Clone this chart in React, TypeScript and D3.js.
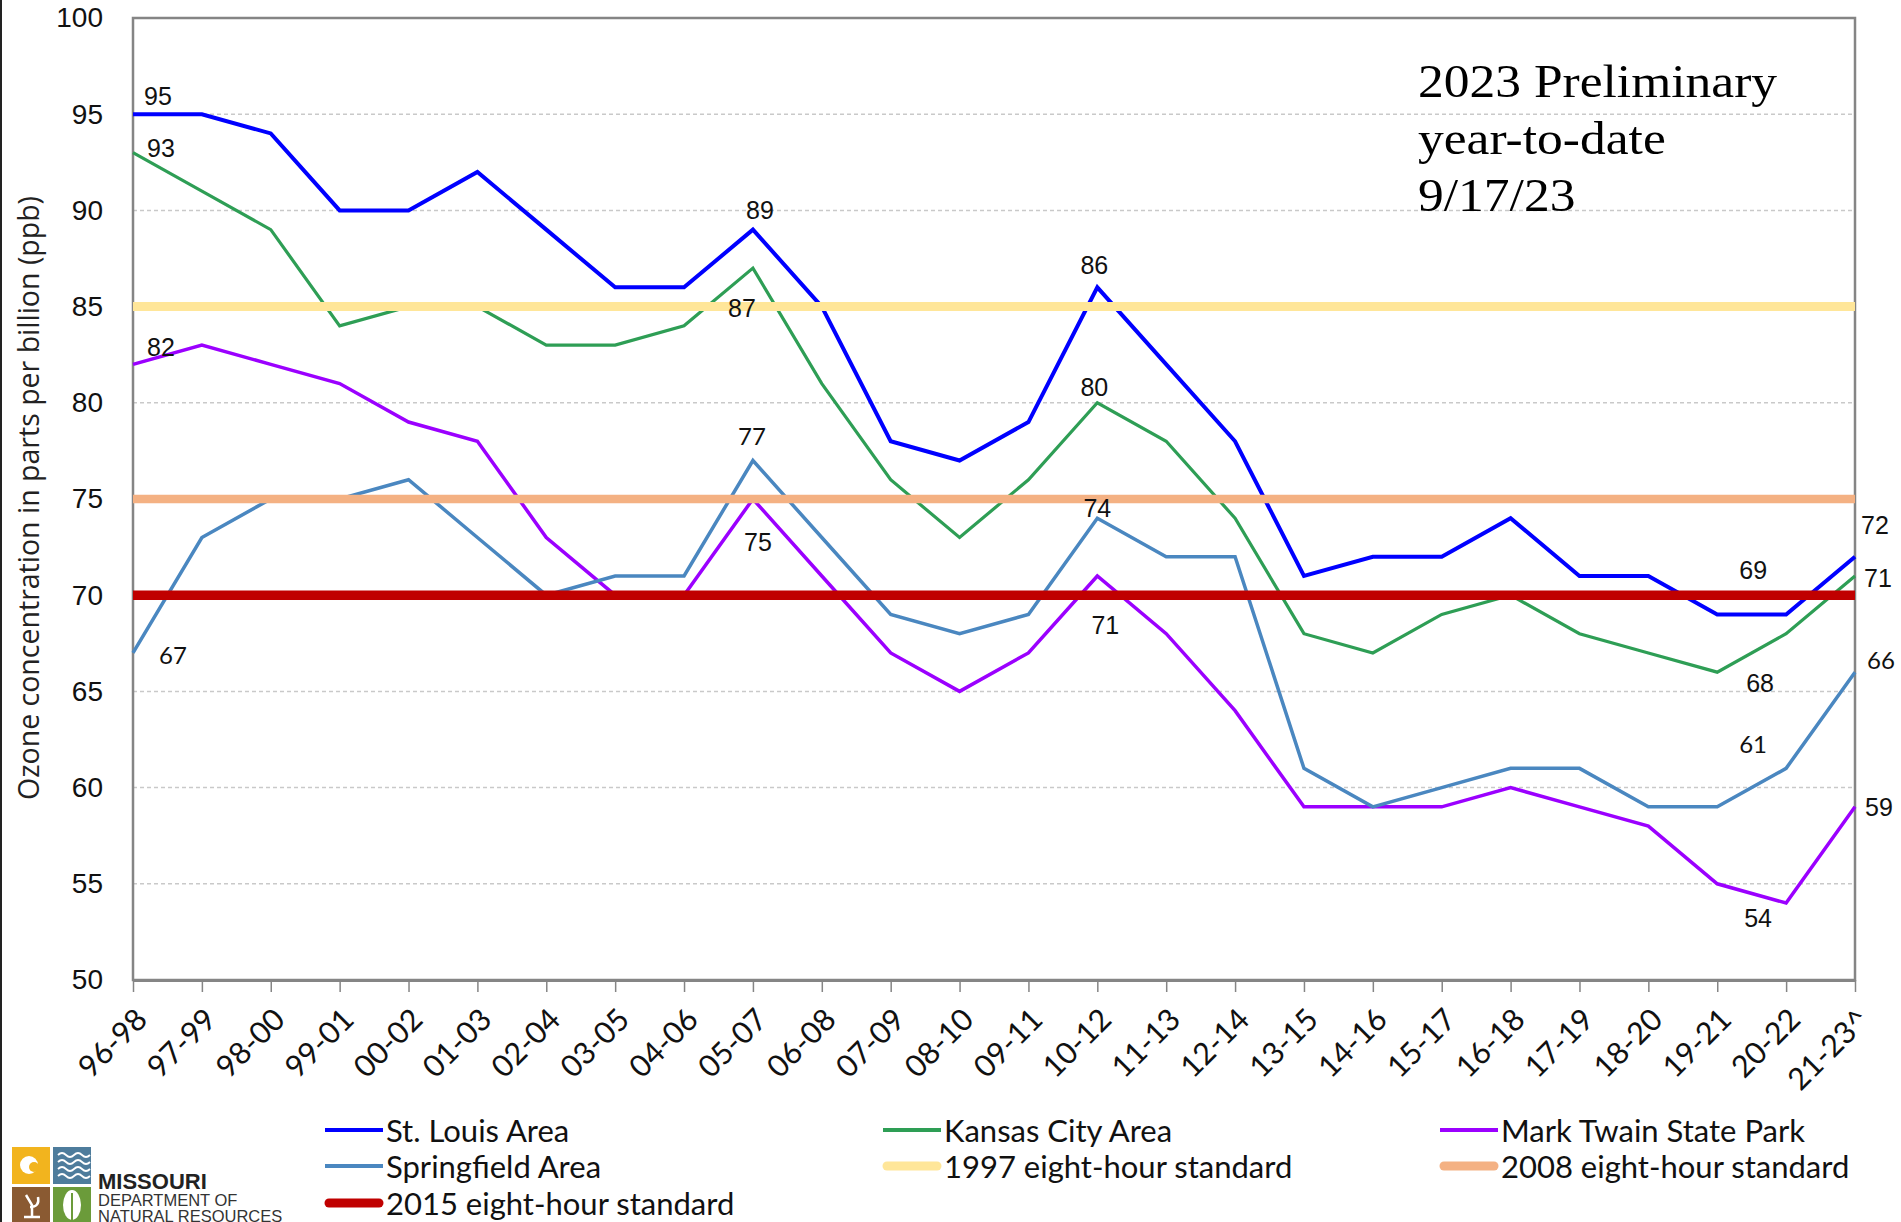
import * as d3 from "d3";
import {useEffect, useRef} from "react";

// three-year design value periods
const categories = [
    "96-98", "97-99", "98-00", "99-01", "00-02", "01-03", "02-04", "03-05", "04-06", "05-07",
    "06-08", "07-09", "08-10", "09-11", "10-12", "11-13", "12-14", "13-15", "14-16", "15-17",
    "16-18", "17-19", "18-20", "19-21", "20-22", "21-23^"
];

const stLouis = [95, 95, 94, 90, 90, 92, 89, 86, 86, 89, 85, 78, 77, 79, 86, 82, 78, 71, 72, 72, 74, 71, 71, 69, 69, 72];
const kansasCity = [93, 91, 89, 84, 85, 85, 83, 83, 84, 87, 81, 76, 73, 76, 80, 78, 74, 68, 67, 69, 70, 68, 67, 66, 68, 71];
const markTwain = [82, 83, 82, 81, 79, 78, 73, 70, 70, 75, 71, 67, 65, 67, 71, 68, 64, 59, 59, 59, 60, 59, 58, 55, 54, 59];
const springfield = [67, 73, 75, 75, 76, 73, 70, 71, 71, 77, 73, 69, 68, 69, 74, 72, 72, 61, 59, 60, 61, 61, 59, 59, 61, 66];

const standard1997 = 85;
const standard2008 = 75;
const standard2015 = 70;

const yTicks = [50, 55, 60, 65, 70, 75, 80, 85, 90, 95, 100];
const gridTicks = [55, 60, 65, 70, 75, 80, 85, 90, 95];

const noteLines = ["2023 Preliminary", "year-to-date", "9/17/23"];

const series = [
    {name: "St. Louis Area", values: stLouis, color: "#0000FF", width: 4},
    {name: "Kansas City Area", values: kansasCity, color: "#2E9E55", width: 3.2},
    {name: "Mark Twain State Park", values: markTwain, color: "#9B00FF", width: 3.5},
    {name: "Springfield Area", values: springfield, color: "#4A87C0", width: 3.5},
];

const standards = [
    {name: "1997 eight-hour standard", value: standard1997, color: "#FFE699", width: 9},
    {name: "2008 eight-hour standard", value: standard2008, color: "#F4B183", width: 8.5},
    {name: "2015 eight-hour standard", value: standard2015, color: "#C00000", width: 9.5},
];

// which point gets a value label (series index, category index) and where it sits
const pointLabels = [
    {s: 0, i: 0, dx: 25, dy: -18}, {s: 1, i: 0, dx: 28, dy: -5}, {s: 2, i: 0, dx: 28, dy: -17},
    {s: 3, i: 0, dx: 40, dy: 2, calibri: true},
    {s: 0, i: 9, dx: 7, dy: -20}, {s: 1, i: 9, dx: -11, dy: 40}, {s: 3, i: 9, dx: -1, dy: -25, calibri: true},
    {s: 2, i: 9, dx: 5, dy: 43},
    {s: 0, i: 14, dx: -3, dy: -22}, {s: 1, i: 14, dx: -3, dy: -16}, {s: 3, i: 14, dx: 0, dy: -10},
    {s: 2, i: 14, dx: 8, dy: 49},
    {s: 0, i: 25, dx: 20, dy: -32}, {s: 0, i: 23, dx: 36, dy: -44}, {s: 1, i: 25, dx: 23, dy: 2},
    {s: 1, i: 24, dx: -26, dy: 49}, {s: 3, i: 25, dx: 26, dy: -13, calibri: true},
    {s: 3, i: 24, dx: -33, dy: -25, calibri: true}, {s: 2, i: 25, dx: 24, dy: 0}, {s: 2, i: 24, dx: -28, dy: 15},
];

const App = () => {
    const ref = useRef<SVGSVGElement>(null);

    useEffect(() => {
        const svg = d3.select(ref.current);
        svg.selectAll("*").remove();

        const left = 133, right = 1855, top = 18, bottom = 980;

        const x = d3.scalePoint<string>().domain(categories).range([left, right]);
        const y = d3.scaleLinear().domain([50, 100]).range([bottom, top]);

        svg.append("rect").attr("width", 1901).attr("height", 1222).attr("fill", "#fff");
        svg.append("line").attr("x1", 1).attr("x2", 1).attr("y1", 0).attr("y2", 1222)
            .attr("stroke", "#222").attr("stroke-width", 2);

        // gridlines
        svg.append("g").selectAll("line").data(gridTicks).enter().append("line")
            .attr("x1", left).attr("x2", right)
            .attr("y1", d => y(d)).attr("y2", d => y(d))
            .attr("stroke", "#C9C9C9").attr("stroke-width", 1.5).attr("stroke-dasharray", "4,3");

        // frame
        svg.append("rect").attr("x", left).attr("y", top)
            .attr("width", right - left).attr("height", bottom - top)
            .attr("fill", "none").attr("stroke", "#858585").attr("stroke-width", 2.5);

        // x axis
        const xAxis = svg.append("g").attr("transform", `translate(0,${bottom})`)
            .call(d3.axisBottom(x).tickSize(12).tickSizeOuter(0));
        xAxis.select(".domain").attr("stroke", "#858585").attr("stroke-width", 3);
        xAxis.selectAll(".tick line").attr("stroke", "#858585").attr("stroke-width", 1.5);
        xAxis.selectAll(".tick text")
            .attr("x", 0).attr("y", 0).attr("dy", "0.35em")
            .attr("text-anchor", "end")
            .attr("transform", "translate(8,34) rotate(-45)")
            .attr("font-family", "Lato, 'Open Sans', sans-serif")
            .attr("font-size", 30.5).attr("fill", "#111");

        // y axis
        const yAxis = svg.append("g").attr("transform", `translate(${left},0)`)
            .call(d3.axisLeft(y).tickValues(yTicks).tickSize(0).tickPadding(30));
        yAxis.select(".domain").remove();
        yAxis.selectAll(".tick text")
            .attr("font-family", "'Liberation Sans', Arial, sans-serif")
            .attr("font-size", 28).attr("fill", "#111");

        svg.append("text")
            .attr("transform", "translate(28,498) rotate(-90)")
            .attr("text-anchor", "middle").attr("dominant-baseline", "central")
            .attr("font-family", "'Open Sans', 'Noto Sans', sans-serif")
            .attr("font-size", 28.5).attr("fill", "#222")
            .text("Ozone concentration in parts per billion (ppb)");

        // series lines
        const line = d3.line<number>()
            .x((d, i) => x(categories[i]) as number)
            .y(d => y(d));

        svg.append("g").selectAll("path").data(series).enter().append("path")
            .attr("d", d => line(d.values))
            .attr("fill", "none")
            .attr("stroke", d => d.color)
            .attr("stroke-width", d => d.width)
            .attr("stroke-linejoin", "miter");

        // standards on top
        svg.append("g").selectAll("line").data(standards).enter().append("line")
            .attr("x1", left).attr("x2", right)
            .attr("y1", d => y(d.value)).attr("y2", d => y(d.value))
            .attr("stroke", d => d.color).attr("stroke-width", d => d.width);

        // value labels
        svg.append("g").selectAll("text").data(pointLabels).enter().append("text")
            .attr("x", d => (x(categories[d.i]) as number) + d.dx)
            .attr("y", d => y(series[d.s].values[d.i]) + d.dy)
            .attr("text-anchor", "middle").attr("dominant-baseline", "central")
            .attr("font-family", d => d.calibri ? "Lato, sans-serif" : "'Liberation Sans', Arial, sans-serif")
            .attr("font-size", d => d.calibri ? 24 : 25)
            .attr("fill", "#111")
            .text(d => series[d.s].values[d.i]);

        // note, a bit wider than plain Liberation Serif
        svg.append("g").attr("transform", "translate(1418,0) scale(1.12,1)")
            .selectAll("text").data(noteLines).enter().append("text")
            .attr("x", 0).attr("y", (d, i) => 97 + i * 57)
            .attr("font-family", "'Liberation Serif', 'DejaVu Serif', serif")
            .attr("font-size", 46).attr("fill", "#000")
            .text(d => d);

        // legend
        const legendItems = [
            {...series[0], cap: "butt"}, {...series[1], cap: "butt"}, {...series[2], cap: "butt"},
            {...series[3], cap: "butt"}, {...standards[0], cap: "round"}, {...standards[1], cap: "round"},
            {...standards[2], cap: "round"},
        ];
        const colX = [325, 883, 1440];
        const rowY = [1130, 1166, 1203];
        const legend = svg.append("g").selectAll("g").data(legendItems).enter().append("g")
            .attr("transform", (d, i) => `translate(${colX[i % 3]},${rowY[Math.floor(i / 3)]})`);
        legend.append("line")
            .attr("x1", d => d.cap === "round" ? 4 : 0).attr("x2", d => d.cap === "round" ? 54 : 58)
            .attr("stroke", d => d.color)
            .attr("stroke-width", d => d.cap === "round" ? 9 : 4)
            .attr("stroke-linecap", d => d.cap);
        legend.append("text")
            .attr("x", 61).attr("dominant-baseline", "central")
            .attr("font-family", "Lato, 'Open Sans', sans-serif")
            .attr("font-size", 31).attr("fill", "#111")
            .text(d => d.name);

        // Missouri DNR logo
        const logo = svg.append("g").attr("transform", "translate(12,1147)");
        logo.append("rect").attr("x", 0).attr("y", 0).attr("width", 38).attr("height", 37).attr("fill", "#F2B41E");
        logo.append("rect").attr("x", 41).attr("y", 0).attr("width", 38).attr("height", 37).attr("fill", "#4E7C9C");
        logo.append("rect").attr("x", 0).attr("y", 40).attr("width", 38).attr("height", 36).attr("fill", "#8A5A32");
        logo.append("rect").attr("x", 41).attr("y", 40).attr("width", 38).attr("height", 36).attr("fill", "#6B9B3A");
        logo.append("circle").attr("cx", 17).attr("cy", 18).attr("r", 9).attr("fill", "#fff");
        logo.append("circle").attr("cx", 22).attr("cy", 20).attr("r", 5).attr("fill", "#F2B41E");
        [8, 15, 22, 29].forEach(wy => {
            logo.append("path")
                .attr("d", `M46,${wy} q4,-4 8,0 t8,0 t8,0 t8,0`)
                .attr("fill", "none").attr("stroke", "#fff").attr("stroke-width", 1.8);
        });
        logo.append("path").attr("d", "M12,70 L28,70 M20,70 L20,58 L14,48 M18,60 Q28,60 26,50")
            .attr("fill", "none").attr("stroke", "#fff").attr("stroke-width", 2.5);
        logo.append("ellipse").attr("cx", 60).attr("cy", 58).attr("rx", 9).attr("ry", 15).attr("fill", "#fff");
        logo.append("path").attr("d", "M60,46 L60,73").attr("stroke", "#6B9B3A").attr("stroke-width", 2);
        logo.append("text").attr("x", 86).attr("y", 42)
            .attr("font-family", "'Liberation Sans', Arial, sans-serif").attr("font-weight", "bold")
            .attr("font-size", 22).attr("fill", "#222").text("MISSOURI");
        logo.append("text").attr("x", 86).attr("y", 59)
            .attr("font-family", "'Liberation Sans Narrow', 'Liberation Sans', Arial, sans-serif")
            .attr("font-size", 16.5).attr("fill", "#333").text("DEPARTMENT OF");
        logo.append("text").attr("x", 86).attr("y", 75)
            .attr("font-family", "'Liberation Sans Narrow', 'Liberation Sans', Arial, sans-serif")
            .attr("font-size", 16.5).attr("fill", "#333").text("NATURAL RESOURCES");
    }, []);

    return (
        <svg ref={ref} width={1901} height={1222}
             style={{position: "absolute", left: 0, top: 0, display: "block"}}/>
    );
};

export default App;
